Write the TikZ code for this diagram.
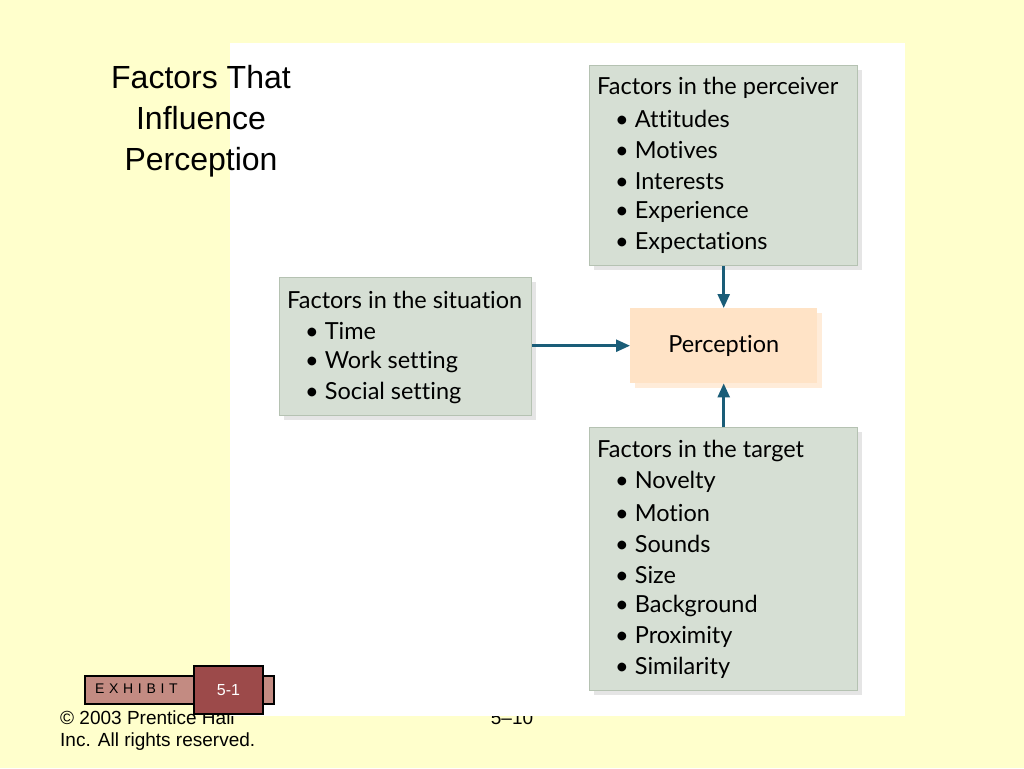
\documentclass[tikz,border=0pt]{standalone}
\usepackage{fontspec}
\setmainfont{Liberation Sans}
\newfontfamily\boxfont[Ligatures={NoCommon}]{Lato}
\usetikzlibrary{arrows.meta}
\definecolor{bgy}{HTML}{FFFFCC}
\definecolor{boxg}{HTML}{D6DFD4}
\definecolor{boxe}{HTML}{B5C2B2}
\definecolor{peach}{HTML}{FFE3C6}
\definecolor{teal}{HTML}{1A5D78}
\definecolor{exa}{HTML}{C38B82}
\definecolor{exb}{HTML}{9C4A4A}
\tikzset{
 fbox/.style={draw=boxe,fill=boxg,line width=1pt},
 shad/.style={fill=black!10},
 btxt/.style={anchor=west,font=\boxfont\fontsize{23.5}{25}\selectfont,inner sep=0},
 arr/.style={draw=teal,line width=2.5pt,-{Triangle[length=14pt,width=12pt]}}
}
\begin{document}
\begin{tikzpicture}[x=1pt,y=-1pt]
\useasboundingbox (0,0) rectangle (1024,768);
\fill[bgy] (0,0) rectangle (1024,768);
\node[anchor=west,font=\fontsize{19}{20}\selectfont,inner sep=0] (cp1) at (60,718) {© 2003 Prentice Hall};
\node[anchor=west,font=\fontsize{19}{20}\selectfont,inner sep=0] (cp2) at (60,742) {Inc. All rights reserved.};
\node[font=\fontsize{19}{20}\selectfont,inner sep=0] (pg) at (512,718) {5–10};
\fill[white] (230,43) rectangle (905,716);
\node[align=center,font=\fontsize{32}{41}\selectfont] (title) at (201,121) {Factors That\\Influence\\Perception};
% shadows
\fill[shad] (594,70) rectangle (862,270);
\fill[shad] (284,282) rectangle (536,420);
\fill[shad] (594,432) rectangle (862,695);
\fill[orange!15] (635,313) rectangle (822,388);
% boxes
\node[fbox,minimum width=252,minimum height=138,anchor=north west] (sit) at (279,277) {};
\node[draw=none,fill=peach,minimum width=187,minimum height=75,anchor=north west,font=\boxfont\fontsize{23.5}{25}\selectfont] (perc) at (630,308) {Perception};
\node[fbox,minimum width=268,minimum height=200,anchor=north west] (perv) at (589,65) {};
\node[fbox,minimum width=268,minimum height=263,anchor=north west] (targ) at (589,427) {};
% texts
\node[btxt] (p0) at (597,88) {Factors in the perceiver};
\foreach \t [count=\i] in {Attitudes,Motives,Interests,Experience,Expectations}
  \node[btxt] (p\i) at (615,88+31*\i) {\textbullet\ \t};
\node[btxt] (s0) at (287,300) {Factors in the situation};
\foreach \t [count=\i] in {Time,Work setting,Social setting}
  \node[btxt] (s\i) at (305,300+31*\i) {\textbullet\ \t};
\node[btxt] (t0) at (597,451) {Factors in the target};
\foreach \t [count=\i] in {Novelty,Motion,Sounds,Size,Background,Proximity,Similarity}
  \node[btxt] (t\i) at (615,451+31*\i) {\textbullet\ \t};
% arrows
\draw[arr] (perv.south -| perc.north) -- (perc.north);
\draw[arr] (targ.north -| perc.south) -- (perc.south);
\draw[arr] (sit.east |- perc.west) -- (perc.west);
% exhibit
\node[draw=black,line width=2pt,fill=exa,minimum width=189,minimum height=28,anchor=north west,inner sep=0] (exbar) at (84,675) {};
\node[anchor=west,font=\fontsize{14}{15}\selectfont,inner sep=0] (ext) at (95,689) {E\,\,X\,\,H\,\,I\,\,B\,\,I\,\,T};
\node[draw=black,line width=2pt,fill=exb,minimum width=69,minimum height=48,anchor=north west,inner sep=0,text=white,font=\fontsize{16}{17}\selectfont] (exn) at (193,665) {5-1};
\end{tikzpicture}
\end{document}
